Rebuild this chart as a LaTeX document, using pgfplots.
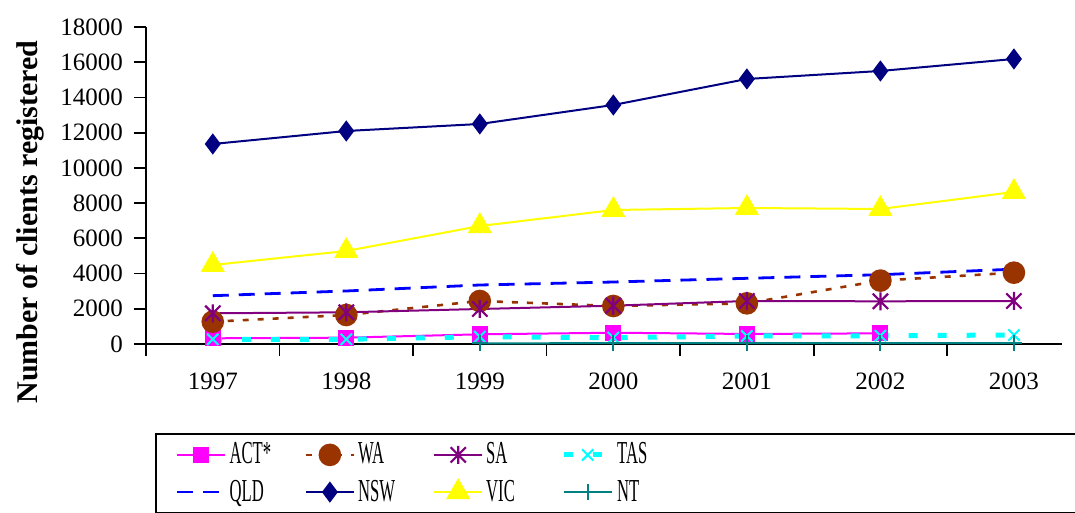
\documentclass[border=0pt]{standalone}
\usepackage{pgfplots}
\pgfplotsset{compat=1.18}
\usepackage{graphicx}
\usepackage{fontspec}
\setmainfont{Liberation Serif}
\definecolor{cACT}{RGB}{255,0,255}
\definecolor{cWA}{RGB}{153,51,0}
\definecolor{cSA}{RGB}{128,0,128}
\definecolor{cTAS}{RGB}{0,255,255}
\definecolor{cQLD}{RGB}{0,0,255}
\definecolor{cNSW}{RGB}{0,0,128}
\definecolor{cVIC}{RGB}{255,255,0}
\definecolor{cNT}{RGB}{0,128,128}
\pgfdeclareplotmark{xstar}{%
  \pgfpathmoveto{\pgfqpoint{0pt}{\pgfplotmarksize}}%
  \pgfpathlineto{\pgfqpoint{0pt}{-\pgfplotmarksize}}%
  \pgfpathmoveto{\pgfqpoint{-0.85\pgfplotmarksize}{0.85\pgfplotmarksize}}%
  \pgfpathlineto{\pgfqpoint{0.85\pgfplotmarksize}{-0.85\pgfplotmarksize}}%
  \pgfpathmoveto{\pgfqpoint{-0.85\pgfplotmarksize}{-0.85\pgfplotmarksize}}%
  \pgfpathlineto{\pgfqpoint{0.85\pgfplotmarksize}{0.85\pgfplotmarksize}}%
  \pgfusepathqstroke}
\newcommand{\legtxt}[1]{\makebox[38pt][l]{\hspace{1pt}\scalebox{0.52}[1]{#1}}}
\newcommand{\legtxtlast}[1]{\makebox[260pt][l]{\hspace{1pt}\scalebox{0.52}[1]{#1}}}
\begin{document}
\begin{tikzpicture}
\begin{axis}[name=ax,
  scale only axis, width=458pt, height=158.5pt,
  xmin=-0.5, xmax=6.36, ymin=0, ymax=18000,
  axis lines=left, axis line style={-, line width=1pt},
  clip=false,
  ytick={0,2000,...,18000},
  scaled y ticks=false,
  /pgf/number format/1000 sep={},
  /pgf/number format/assume math mode=true,
  tick align=outside, major tick length=6pt,
  tick style={black, line width=0.9pt},
  xtick={-0.5,0.5,1.5,2.5,3.5,4.5,5.5}, xticklabels={},
  extra x ticks={0,1,2,3,4,5,6},
  extra x tick labels={1997,1998,1999,2000,2001,2002,2003},
  extra x tick style={major tick length=0pt, xticklabel style={yshift=-11pt}},
  ticklabel style={font=\fontsize{12.5}{14}\selectfont},
  yticklabel style={xshift=-2pt},
  ylabel={\textbf{Number of clients registered}},
  every axis y label/.style={at={(axis description cs:0,0.385)}, xshift=-58pt, rotate=90, anchor=center, font=\fontsize{15}{17}\selectfont},
  legend columns=4,
  legend image code/.code={\draw[mark repeat=2,mark phase=2] plot coordinates {(0pt,0pt) (12pt,0pt) (24pt,0pt)};},
  legend style={at={(axis description cs:0,0)}, anchor=north west, xshift=4.5pt, yshift=-44.5pt,
    draw=black, line width=0.8pt, inner xsep=10pt, inner ysep=3.5pt,
    font=\fontsize{16}{18}\selectfont, row sep=4.5pt,
    nodes={inner xsep=0.5pt, inner ysep=1pt},
    cells={anchor=west}},
]
\addplot[cACT, line width=1pt, mark=square*, mark size=3.5pt, mark options={solid}] coordinates {(0,323) (1,360) (2,550) (3,640) (4,570) (5,605)};
\addlegendentry{\legtxt{ACT*}}
\addplot[cWA, line width=1.3pt, dash pattern=on 3pt off 4.5pt, mark=*, mark size=5pt, mark options={solid}] coordinates {(0,1267) (1,1647) (2,2442) (3,2158) (4,2310) (5,3600) (6,4050)};
\addlegendentry{\legtxt{WA}}
\addplot[cSA, line width=1pt, mark=xstar, mark size=4.5pt, mark options={solid, line width=1.1pt}] coordinates {(0,1743) (1,1800) (2,1988) (3,2175) (4,2442) (5,2424) (6,2442)};
\addlegendentry{\legtxt{SA}}
\addplot[cTAS, line width=2.5pt, dash pattern=on 4.5pt off 10pt, mark=x, mark size=4pt, mark options={solid, line width=1pt}] coordinates {(0,265) (1,265) (2,415) (3,360) (4,455) (5,470) (6,510)};
\addlegendentry{\legtxtlast{TAS}}
\addplot[cQLD, line width=1.4pt, dash pattern=on 8pt off 5pt] coordinates {(0,2743) (1,3010) (2,3350) (3,3520) (4,3730) (5,3935) (6,4250)};
\addlegendentry{\legtxt{QLD}}
\addplot[cNSW, line width=1pt, mark=diamond*, mark size=4.5pt, mark options={solid}] coordinates {(0,11357) (1,12095) (2,12493) (3,13572) (4,15048) (5,15502) (6,16184)};
\addlegendentry{\legtxt{NSW}}
\addplot[cVIC, line width=1pt, mark=triangle*, mark size=6pt, mark options={solid}] coordinates {(0,4486) (1,5281) (2,6700) (3,7609) (4,7723) (5,7666) (6,8631)};
\addlegendentry{\legtxt{VIC}}
\addplot[cNT, line width=1pt, mark=+, mark size=4pt, mark options={solid, line width=1pt}] coordinates {(2,40) (3,45) (4,45) (5,45) (6,50)};
\addlegendentry{\legtxtlast{NT}}
\end{axis}
\pgfresetboundingbox
\useasboundingbox ([shift={(-73pt,-84.5pt)}]ax.south west) rectangle ([shift={(464.5pt,172pt)}]ax.south west);
\end{tikzpicture}
\end{document}
